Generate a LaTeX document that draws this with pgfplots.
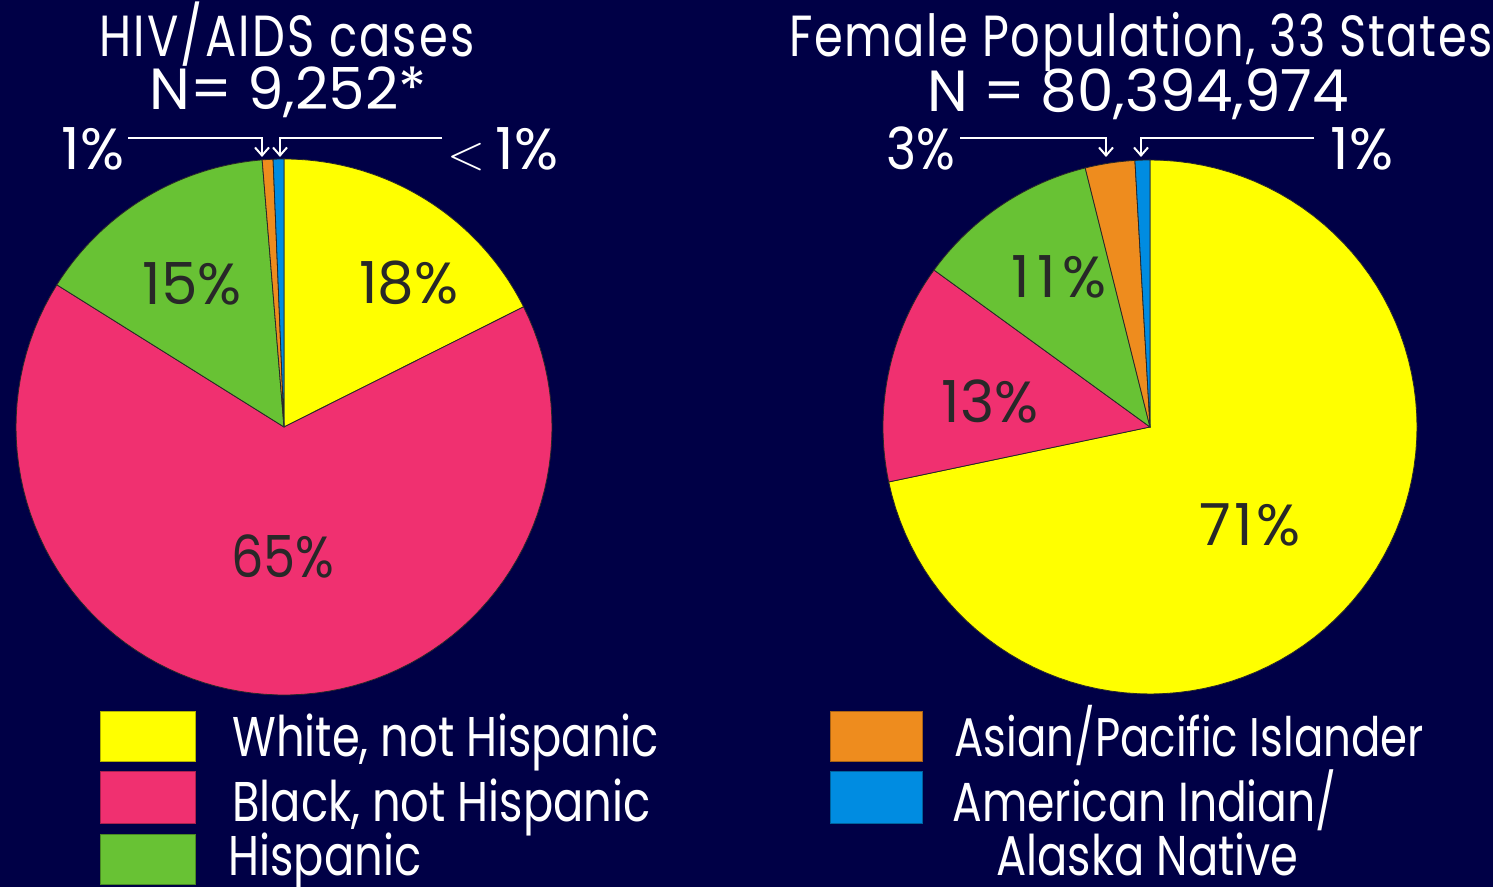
\documentclass[border=0pt]{standalone}
\usepackage{fontspec}
\setmainfont{Poppins}[FakeStretch=0.8]
\newfontfamily\wfont{Poppins}[FakeStretch=1.0]
\newfontfamily\mfont{Poppins}[FakeStretch=0.88]
\usepackage{pgfplots}
\pgfplotsset{compat=1.18}
\usetikzlibrary{arrows.meta}
\definecolor{bg}{RGB}{0,0,70}
\definecolor{cW}{RGB}{255,255,0}
\definecolor{cB}{RGB}{240,48,112}
\definecolor{cH}{RGB}{104,194,52}
\definecolor{cA}{RGB}{238,140,30}
\definecolor{cI}{RGB}{0,140,225}
\definecolor{edge}{RGB}{40,40,40}
\definecolor{lab}{RGB}{40,40,40}
\newcommand\tfont{\fontsize{29}{34}\selectfont}
\newcommand\gfont{\fontsize{28}{34}\selectfont}
\newcommand\ls[2]{{\addfontfeature{LetterSpace=#1}#2}}
% shares (percent)
% HIV/AIDS cases
\def\lW{17.6}\def\lB{66.3}\def\lH{14.8}\def\lA{0.65}\def\lI{0.65}
% Female population
\def\rW{71.7}\def\rB{13.3}\def\rH{11.1}\def\rA{3.0}\def\rI{0.9}
\pgfmathsetmacro\la{90}
\pgfmathsetmacro\lb{\la-3.6*\lW}
\pgfmathsetmacro\lc{\lb-3.6*\lB}
\pgfmathsetmacro\ld{\lc-3.6*\lH}
\pgfmathsetmacro\le{\ld-3.6*\lA}
\pgfmathsetmacro\lf{\le-3.6*\lI}
\pgfmathsetmacro\ra{90}
\pgfmathsetmacro\rb{\ra-3.6*\rW}
\pgfmathsetmacro\rc{\rb-3.6*\rB}
\pgfmathsetmacro\rd{\rc-3.6*\rH}
\pgfmathsetmacro\re{\rd-3.6*\rA}
\pgfmathsetmacro\rf{\re-3.6*\rI}
% cx, cy, r, from, to, colour
\newcommand\slice[6]{\addplot[fill=#6, draw=edge, line width=0.4pt, domain=#4:#5, samples=90, variable=\t] ({#1+#3*cos(\t)},{#2+#3*sin(\t)}) -- (axis cs:#1,#2) -- cycle;}
\newcommand\lbox[5]{\addplot[fill=#5, draw=#5!70!black, line width=0.4pt] coordinates {(#1,#2) (#3,#2) (#3,#4) (#1,#4)} -- cycle;}
\tikzset{callout/.style={white, line width=1pt, -{Straight Barb[length=4pt,width=7pt,line width=1pt]}}}
\begin{document}
\begin{tikzpicture}
\fill[bg] (0,0) rectangle (746.5pt,443.5pt);
\begin{axis}[at={(0,0)}, anchor=south west, scale only axis,
  width=746.5pt, height=443.5pt, xmin=0, xmax=1493, ymin=0, ymax=887,
  hide axis, clip=false]
% left pie
\slice{284}{460}{268}{\lb}{\la}{cW}
\slice{284}{460}{268}{\lc}{\lb}{cB}
\slice{284}{460}{268}{\ld}{\lc}{cH}
\slice{284}{460}{268}{\le}{\ld}{cA}
\slice{284}{460}{268}{\lf}{\le}{cI}
% right pie
\slice{1150}{460}{267}{\rb}{\ra}{cW}
\slice{1150}{460}{267}{\rc}{\rb}{cB}
\slice{1150}{460}{267}{\rd}{\rc}{cH}
\slice{1150}{460}{267}{\re}{\rd}{cA}
\slice{1150}{460}{267}{\rf}{\re}{cI}
% legend boxes
\lbox{100}{126}{195}{176}{cW}
\lbox{100}{64}{195}{116}{cB}
\lbox{100}{3}{195}{53}{cH}
\lbox{830}{126}{922}{176}{cA}
\lbox{830}{64}{922}{116}{cI}
% slice labels
\node[font=\wfont\tfont, text=lab] at (axis cs:409,604) {18\%};
\node[font=\wfont\tfont, text=lab] at (axis cs:192,603) {15\%};
\node[font=\mfont\tfont, text=lab] at (axis cs:283,331) {65\%};
\node[font=\wfont\tfont, text=lab] at (axis cs:1059,610) {\ls{12}{11\%}};
\node[font=\wfont\tfont, text=lab] at (axis cs:990,486) {13\%};
\node[font=\wfont\tfont, text=lab] at (axis cs:1250,362) {\ls{6}{71\%}};
% titles
\node[font=\tfont, text=white, anchor=base] at (axis cs:287,830) {\ls{3.8}{HIV/AIDS cases}};
\node[font=\wfont\tfont, text=white, anchor=base] at (axis cs:288,777) {N= 9,252*};
\node[font=\tfont, text=white, anchor=base] at (axis cs:1141,830) {\ls{2.7}{Female Population, 33 States}};
\node[font=\wfont\tfont, text=white, anchor=base] at (axis cs:1138,775) {N = 80,394,974};
% callouts
\node[font=\wfont\tfont, text=white, anchor=base] at (axis cs:93,717) {1\%};
\node[font=\wfont\tfont, text=white, anchor=base] at (axis cs:503,717) {$<$\,1\%};
\node[font=\mfont\tfont, text=white, anchor=base] at (axis cs:921,717) {3\%};
\node[font=\wfont\tfont, text=white, anchor=base] at (axis cs:1362,717) {1\%};
\draw[callout] (axis cs:128,749) -- (axis cs:262,749) -- (axis cs:262,730);
\draw[callout] (axis cs:442,749) -- (axis cs:280,749) -- (axis cs:280,730);
\draw[callout] (axis cs:960,749) -- (axis cs:1106,749) -- (axis cs:1106,730);
\draw[callout] (axis cs:1314,749) -- (axis cs:1141,749) -- (axis cs:1141,730);
% legend texts
\node[font=\gfont, text=white, anchor=base west, inner sep=0pt] at (axis cs:232,130) {White, not Hispanic};
\node[font=\gfont, text=white, anchor=base west, inner sep=0pt] at (axis cs:232,65) {Black, not Hispanic};
\node[font=\gfont, text=white, anchor=base west, inner sep=0pt] at (axis cs:228,11) {Hispanic};
\node[font=\fontsize{27.2}{34}\selectfont, text=white, anchor=base west, inner sep=0pt] at (axis cs:954,130) {Asian/Pacific Islander};
\node[font=\fontsize{27.5}{34}\selectfont, text=white, anchor=base west, inner sep=0pt] at (axis cs:952,65) {American Indian/};
\node[font=\gfont, text=white, anchor=base west, inner sep=0pt] at (axis cs:996,11) {Alaska Native};
\end{axis}
\pgfresetboundingbox
\path (0,0) rectangle (746.5pt,443.5pt);
\end{tikzpicture}
\end{document}
